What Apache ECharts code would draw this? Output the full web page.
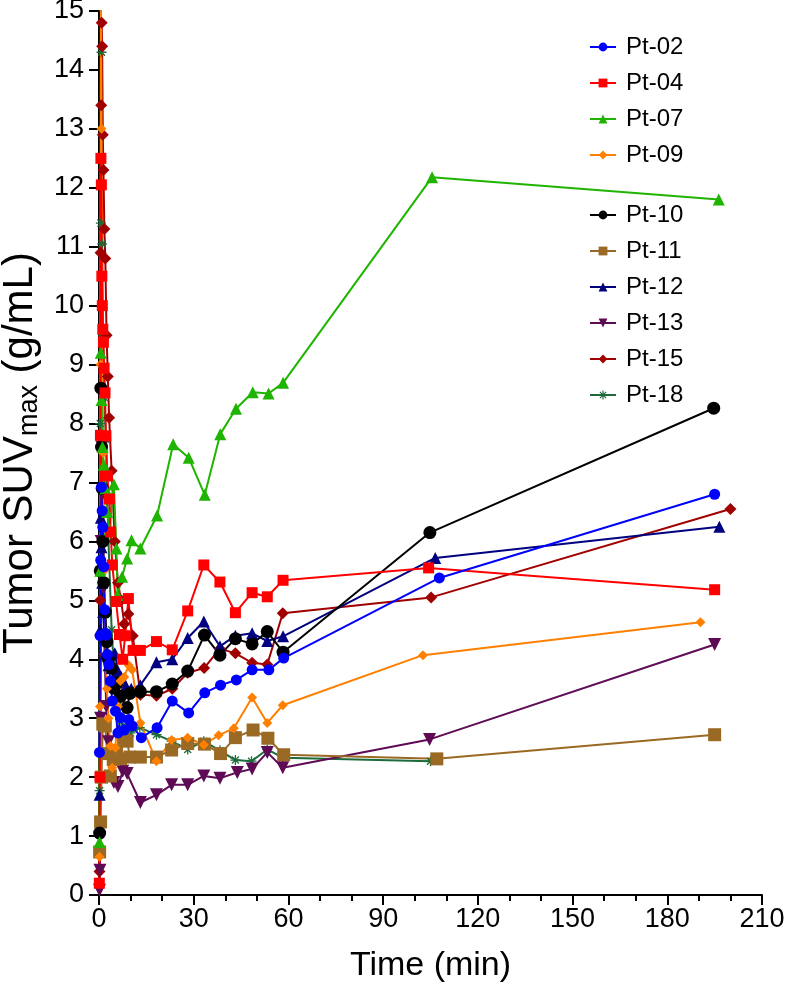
<!DOCTYPE html>
<html><head><meta charset="utf-8">
<script src="https://cdn.jsdelivr.net/npm/echarts/dist/echarts.min.js"></script>
<style>html,body{margin:0;padding:0;background:#fff}#c{width:791px;height:992px}</style>
</head><body><div id="c"></div>
<script>
const pt02 = [[0.15,2.42],[0.35,4.4],[0.55,5.68],[0.8,6.92],[1.0,6.52],[1.2,6.24],[1.5,5.57],[1.8,4.84],[2.1,4.44],[2.4,4.41],[2.7,4.08],[3.1,3.91],[3.6,3.63],[4.2,3.29],[5.2,3.12],[6.0,2.75],[6.8,3.01],[8.0,2.8],[9.4,2.98],[10.5,2.87],[13.4,2.67],[18.4,2.84],[23.2,3.29],[28.4,3.09],[33.5,3.43],[38.5,3.56],[43.5,3.65],[48.5,3.82],[53.8,3.82],[58.5,4.02],[107.8,5.38],[195.0,6.8]];
const pt04 = [[0.1,0.2],[0.3,2.0],[0.45,7.8],[0.6,12.5],[0.75,12.05],[0.9,10.5],[1.05,10.0],[1.2,9.6],[1.4,9.38],[1.6,8.94],[1.9,8.52],[2.2,7.79],[2.6,7.11],[3.3,6.72],[3.7,6.16],[4.2,5.6],[5.4,4.98],[6.5,4.42],[7.5,4.0],[8.3,4.4],[9.3,5.03],[10.8,4.15],[13.1,4.15],[18.2,4.30],[23.2,4.16],[28.1,4.82],[33.2,5.60],[38.3,5.31],[43.2,4.79],[48.5,5.13],[53.3,5.06],[58.3,5.34],[104.4,5.55],[195.0,5.18]];
const pt07 = [[0.15,0.9],[0.35,5.5],[0.55,9.2],[0.8,8.4],[1.1,7.6],[1.5,7.3],[2.0,6.9],[2.6,6.5],[3.3,6.2],[4.7,6.97],[5.5,5.88],[5.9,5.09],[7.3,5.40],[8.9,5.71],[10.3,6.02],[13.1,5.88],[18.4,6.44],[23.5,7.65],[28.4,7.42],[33.5,6.79],[38.4,7.82],[43.4,8.25],[48.7,8.53],[53.7,8.51],[58.3,8.69],[105.5,12.18],[196.3,11.8]];
const pt09 = [[0.15,0.65],[0.3,3.2],[0.45,9.0],[0.6,15.6],[0.8,13.0],[1.0,10.0],[1.3,7.5],[1.6,5.5],[2.0,4.4],[2.5,3.5],[3.0,3.0],[3.6,2.53],[4.2,2.16],[5.2,2.5],[6.0,3.2],[6.8,3.63],[8.0,3.7],[9.4,3.9],[10.5,3.82],[13.1,2.92],[18.2,2.27],[23.0,2.63],[28.1,2.67],[33.2,2.55],[37.9,2.71],[42.7,2.83],[48.5,3.35],[53.3,2.92],[58.2,3.22],[102.6,4.07],[190.5,4.63]];
const pt10 = [[0.2,1.05],[0.4,5.5],[0.6,8.6],[0.8,7.6],[1.0,6.9],[1.2,6.0],[1.5,5.3],[2.0,4.8],[2.5,4.3],[3.0,4.0],[4.0,3.85],[4.7,3.51],[5.8,3.6],[6.8,3.37],[8.9,3.18],[9.8,3.42],[13.1,3.45],[18.2,3.45],[23.2,3.58],[28.1,3.80],[33.4,4.41],[38.3,4.07],[43.2,4.35],[48.5,4.26],[53.3,4.47],[58.3,4.12],[104.8,6.15],[194.7,8.26]];
const pt11 = [[0.2,0.73],[0.5,1.24],[0.8,2.0],[1.2,2.9],[1.6,2.9],[2.0,2.87],[2.6,2.4],[3.6,2.02],[4.5,2.3],[5.5,2.45],[6.8,2.31],[7.8,2.67],[8.9,2.61],[9.8,2.34],[13.1,2.34],[18.2,2.34],[23.0,2.46],[28.1,2.57],[33.4,2.56],[38.5,2.40],[43.2,2.67],[48.8,2.80],[53.5,2.66],[58.5,2.38],[107.0,2.31],[195.0,2.72]];
const pt12 = [[0.2,1.7],[0.4,4.5],[0.6,6.4],[0.8,5.9],[1.0,5.3],[1.3,4.8],[1.7,4.4],[2.2,4.1],[3.0,3.9],[4.0,3.85],[5.0,4.1],[6.0,3.8],[7.0,3.7],[8.5,3.55],[10.2,3.5],[13.1,3.56],[18.2,3.95],[23.2,4.0],[28.1,4.36],[33.2,4.64],[38.3,4.22],[43.2,4.40],[48.5,4.44],[53.3,4.31],[58.3,4.39],[106.5,5.72],[196.5,6.25]];
const pt13 = [[0.15,0.08],[0.3,0.42],[0.5,3.0],[0.7,6.0],[0.9,7.6],[1.1,6.8],[1.4,5.2],[1.8,4.0],[2.3,3.2],[3.0,2.6],[3.8,2.3],[4.7,1.91],[6.0,1.84],[7.5,2.1],[8.9,2.06],[13.1,1.57],[18.2,1.70],[23.0,1.87],[28.1,1.87],[33.2,2.02],[38.3,1.98],[43.8,2.08],[48.5,2.14],[53.3,2.42],[58.2,2.16],[104.7,2.64],[195.0,4.25]];
const pt15 = [[0.15,0.4],[0.35,5.0],[0.5,10.9],[0.7,13.4],[0.85,14.8],[1.0,14.4],[1.2,12.9],[1.4,12.3],[1.7,11.3],[2.0,10.8],[2.4,9.5],[2.8,8.8],[3.2,8.1],[4.0,7.2],[5.0,6.0],[6.0,5.3],[7.0,5.0],[8.0,4.6],[9.3,4.77],[10.7,4.4],[13.1,3.4],[18.2,3.38],[23.2,3.5],[28.1,3.77],[33.3,3.85],[38.3,4.18],[43.2,4.10],[48.5,3.94],[53.3,3.91],[58.2,4.78],[105.2,5.05],[200.0,6.55]];
const pt18 = [[0.2,1.77],[0.4,8.0],[0.6,11.4],[0.8,14.3],[1.0,11.05],[1.3,9.5],[1.7,8.44],[2.2,7.73],[3.0,6.0],[4.0,4.5],[5.0,3.6],[6.0,3.2],[7.0,2.95],[8.5,2.85],[10.0,2.75],[12.9,2.84],[18.2,2.72],[23.0,2.61],[28.1,2.47],[33.2,2.61],[38.3,2.45],[43.2,2.29],[48.3,2.27],[53.3,2.47],[58.2,2.33],[105.0,2.27]];

const names = ['Pt-02','Pt-04','Pt-07','Pt-09','Pt-10','Pt-11','Pt-12','Pt-13','Pt-15','Pt-18'];
const values = [pt02,pt04,pt07,pt09,pt10,pt11,pt12,pt13,pt15,pt18];
const xTicks = [0,30,60,90,120,150,180,210];

const STAR = 'path://M-1.3,-10H1.3V10H-1.3Z M-10,-1.3H10V1.3H-10Z M-7.9,-6.1L-6.1,-7.9L7.9,6.1L6.1,7.9Z M6.1,-7.9L7.9,-6.1L-6.1,7.9L-7.9,6.1Z';
const styles = {
  'Pt-02': {color:'#0000FF', symbol:'circle', size:11},
  'Pt-04': {color:'#FF0000', symbol:'rect', size:11},
  'Pt-07': {color:'#1EB400', symbol:'triangle', size:12},
  'Pt-09': {color:'#FF8000', symbol:'diamond', size:10},
  'Pt-10': {color:'#000000', symbol:'circle', size:13},
  'Pt-11': {color:'#9A6A24', symbol:'rect', size:13},
  'Pt-12': {color:'#000080', symbol:'triangle', size:12},
  'Pt-13': {color:'#5E0A55', symbol:'triangle', size:13, rotate:180},
  'Pt-15': {color:'#A00000', symbol:'diamond', size:12},
  'Pt-18': {color:'#1C6B3A', symbol:STAR, size:10}
};
const FONT = '"Liberation Sans", Arial, Helvetica, sans-serif';

const series = [];
for (let i = names.length - 1; i >= 0; i--) {
  const s = styles[names[i]];
  series.push({
    name: names[i], type: 'line', data: values[i],
    symbol: s.symbol, symbolSize: s.size, symbolRotate: s.rotate || 0,
    lineStyle: {color: s.color, width: 2},
    itemStyle: {color: s.color},
    emphasis: {disabled: true},
    clip: true
  });
}
const legendBase = {
  orient: 'vertical', left: 584, itemWidth: 26, itemHeight: 11, itemGap: 10,
  textStyle: {fontFamily: FONT, fontSize: 24, lineHeight: 26, color: '#000', padding: [0,0,0,5]},
  selectedMode: false
};
const chart = echarts.init(document.getElementById('c'), null, {renderer: 'canvas'});
chart.setOption({
  animation: false,
  backgroundColor: '#fff',
  grid: {left: 99, right: 29, top: 11, bottom: 97, outerBoundsMode: 'none', containLabel: false},
  legend: [
    Object.assign({}, legendBase, {top: 29, data: names.slice(0,4)}),
    Object.assign({}, legendBase, {top: 197, data: names.slice(4)})
  ],
  xAxis: {
    type: 'value', min: xTicks[0], max: xTicks[xTicks.length-1], interval: 30,
    name: 'Time (min)', nameLocation: 'middle', nameGap: 54,
    nameTextStyle: {fontFamily: FONT, fontSize: 34, color: '#000'},
    axisLine: {onZero: false, lineStyle: {color: '#000', width: 2}},
    axisTick: {length: 10, lineStyle: {color: '#000', width: 2}},
    minorTick: {show: true, splitNumber: 3, length: 6, lineStyle: {color: '#000', width: 2}},
    axisLabel: {fontFamily: FONT, fontSize: 27, color: '#000', margin: 11},
    splitLine: {show: false}
  },
  yAxis: {
    type: 'value', min: 0, max: 15, interval: 1,
    name: '{a|Tumor SUV}{b|max}{a| (g/mL)}', nameLocation: 'middle', nameGap: 52, nameRotate: 90,
    nameTextStyle: {
      rich: {
        a: {fontFamily: FONT, fontSize: 42, color: '#000', lineHeight: 46},
        b: {fontFamily: FONT, fontSize: 27, color: '#000', lineHeight: 22, verticalAlign: 'bottom'}
      }
    },
    axisLine: {show: true, onZero: false, lineStyle: {color: '#000', width: 2}},
    axisTick: {show: true, length: 10, lineStyle: {color: '#000', width: 2}},
    axisLabel: {fontFamily: FONT, fontSize: 27, color: '#000', margin: 15},
    splitLine: {show: false}
  },
  series: series
});
</script></body></html>
